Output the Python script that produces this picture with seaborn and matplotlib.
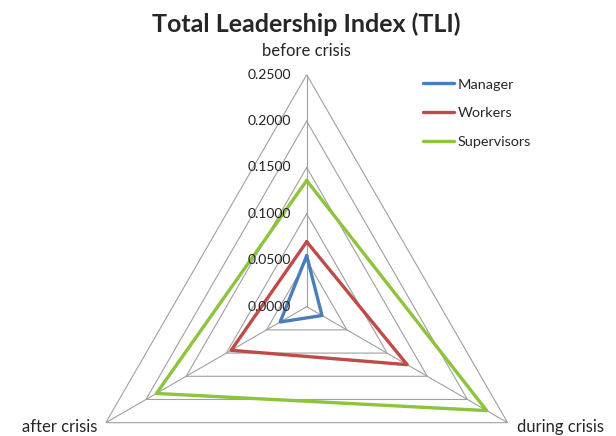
import numpy as np
import pandas as pd
import matplotlib
matplotlib.use("Agg")
import matplotlib.pyplot as plt
import seaborn as sns

# values
categories = ["before crisis", "during crisis", "after crisis"]
manager = [0.055, 0.019, 0.033]
workers = [0.070, 0.125, 0.094]
supervisors = [0.136, 0.224, 0.187]
ring_ticks = [0.0, 0.05, 0.10, 0.15, 0.20, 0.25]

sns.set_style("white")
plt.rcParams["font.family"] = ["Lato", "DejaVu Sans"]

colors = {"Manager": "#4a7ebb", "Workers": "#be4b48", "Supervisors": "#8cc43c"}
theta = np.linspace(0, 2 * np.pi, len(categories), endpoint=False)
theta_closed = np.append(theta, theta[0])

rows = []
for name, vals in [("Manager", manager), ("Workers", workers), ("Supervisors", supervisors)]:
    closed = list(vals) + [vals[0]]
    for t, v in zip(theta_closed, closed):
        rows.append({"group": name, "theta": t, "value": v})
df = pd.DataFrame(rows)

fig = plt.figure(figsize=(6.16, 4.36), dpi=100)
ax = fig.add_axes([0.1213, -0.2355, 0.7532, 1.0642], projection="polar")
ax.set_theta_offset(np.pi / 2)
ax.set_theta_direction(-1)
ax.set_ylim(0, ring_ticks[-1])
ax.set_xticks([])
ax.set_yticks([])
ax.grid(False)
ax.spines["polar"].set_visible(False)
ax.patch.set_alpha(0)

# triangular grid rings and spokes
for r in ring_ticks[1:]:
    ax.plot(theta_closed, [r] * len(theta_closed), color="#a0a0a0", lw=0.8, zorder=1)
for t in theta:
    ax.plot([t, t], [0, ring_ticks[-1]], color="#a0a0a0", lw=0.8, zorder=1)

sns.lineplot(data=df, x="theta", y="value", hue="group", palette=colors,
             sort=False, estimator=None, units="group", lw=2.4, ax=ax, zorder=3)
ax.set_xlabel("")
ax.set_ylabel("")
ax.get_legend().remove()

# tick labels along the top spoke
for r in ring_ticks:
    ax.annotate(f"{r:.4f}", xy=(0, r), xytext=(-11.5, 0), textcoords="offset points",
                ha="right", va="center", fontsize=10, color="#222222")

# category labels
ax.annotate(categories[0], xy=(theta[0], ring_ticks[-1]), xytext=(0, 17),
            textcoords="offset points", ha="center", va="center", fontsize=12)
ax.annotate(categories[1], xy=(theta[1], ring_ticks[-1]), xytext=(7, -3),
            textcoords="offset points", ha="left", va="center", fontsize=12)
ax.annotate(categories[2], xy=(theta[2], ring_ticks[-1]), xytext=(-6, -3),
            textcoords="offset points", ha="right", va="center", fontsize=12)

handles = [plt.Line2D([], [], color=colors[k], lw=2.4) for k in colors]
fig.legend(handles, list(colors), loc="upper left", bbox_to_anchor=(0.665, 0.85),
           frameon=False, fontsize=10.4, handlelength=2.15, handletextpad=0.28,
           labelspacing=1.15)

fig.text(0.497, 0.945, "Total Leadership Index (TLI)", ha="center", va="center",
         fontsize=18, fontweight="bold")

fig.savefig("out.png", dpi=100)
